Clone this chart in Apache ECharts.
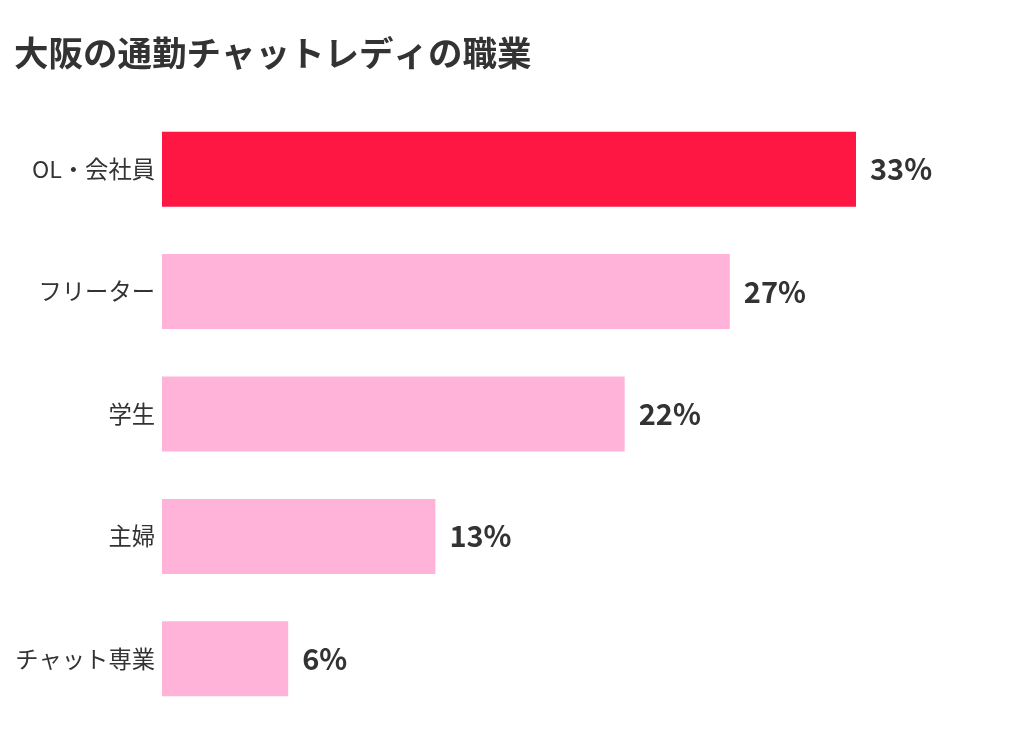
<!DOCTYPE html>
<html>
<head>
<meta charset="utf-8">
<script src="https://cdn.jsdelivr.net/npm/echarts@6/dist/echarts.min.js"></script>
<style>
html,body{margin:0;padding:0;background:#fff;}
#chart{width:1024px;height:740px;}
</style>
</head>
<body>
<div id="chart"></div>
<script>
// 職業カテゴリ（上から順）
const categories = ['OL・会社員', 'フリーター', '学生', '主婦', 'チャット専業'];
// 割合（%）
const values = [33, 27, 22, 13, 6];
const HIGHLIGHT_COLOR = '#ff1744';
const NORMAL_COLOR = '#ffb3d9';
const FONT = '"Noto Sans CJK JP", "Noto Sans", sans-serif';

let myChart = echarts.init(document.getElementById('chart'));

let option = {
	backgroundColor: '#fff',
	animation: false,
	title: {
		text: '大阪の通勤チャットレディの職業',
		left: 9,
		top: 31,
		textStyle: {
			fontFamily: FONT,
			fontSize: 34.5,
			fontWeight: 'bold',
			color: '#333'
		}
	},
	grid: {
		left: 162,
		right: 168,
		top: 108,
		bottom: 20,
		containLabel: false
	},
	xAxis: {
		type: 'value',
		min: 0,
		max: 33,
		show: false
	},
	yAxis: {
		type: 'category',
		inverse: true,
		data: categories,
		axisLine: {show: false},
		axisTick: {show: false},
		splitLine: {show: false},
		axisLabel: {
			margin: 7,
			fontFamily: FONT,
			fontSize: 23.3,
			color: '#333'
		}
	},
	series: [{
		type: 'bar',
		barWidth: 75,
		data: values.map(function(v, i){
			return {
				value: v,
				itemStyle: {color: i == 0 ? HIGHLIGHT_COLOR : NORMAL_COLOR}
			};
		}),
		label: {
			show: true,
			position: 'right',
			distance: 14,
			formatter: '{c}%',
			fontFamily: FONT,
			fontSize: 29,
			fontWeight: 'bold',
			color: '#333'
		}
	}]
};

myChart.setOption(option);
</script>
</body>
</html>
